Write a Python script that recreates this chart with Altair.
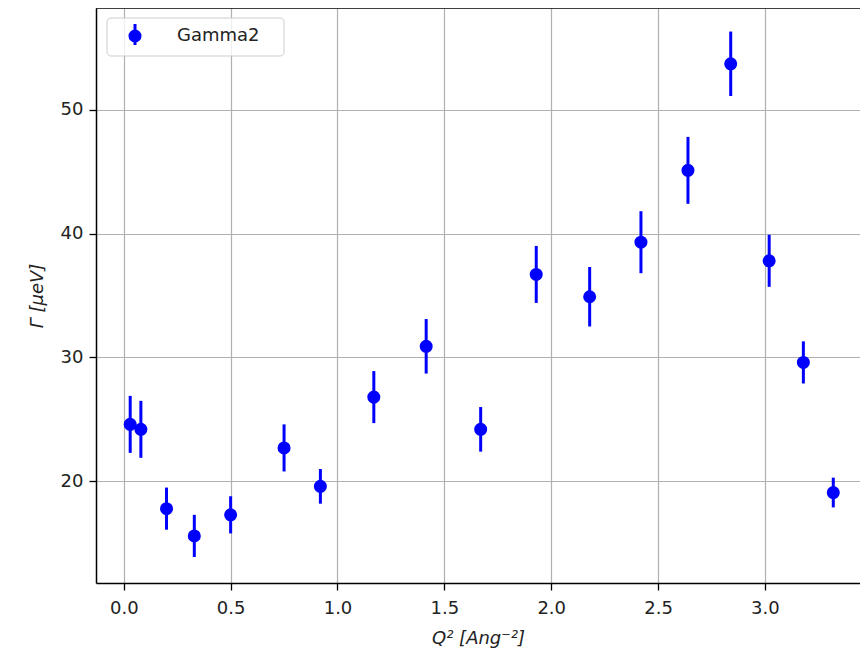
import altair as alt
import pandas as pd

# Data
q2 = [0.03, 0.08, 0.20, 0.33, 0.50, 0.75, 0.92, 1.17, 1.415, 1.67,
      1.93, 2.18, 2.42, 2.64, 2.84, 3.02, 3.18, 3.32]
gamma = [24.6, 24.2, 17.8, 15.6, 17.3, 22.7, 19.6, 26.8, 30.9, 24.2,
         36.7, 34.9, 39.3, 45.1, 53.7, 37.8, 29.6, 19.1]
err = [2.3, 2.3, 1.7, 1.7, 1.5, 1.9, 1.4, 2.1, 2.2, 1.8,
       2.3, 2.4, 2.5, 2.7, 2.6, 2.1, 1.7, 1.2]

x_ticks = [0.0, 0.5, 1.0, 1.5, 2.0, 2.5, 3.0]
y_ticks = [20, 30, 40, 50]

df = pd.DataFrame({"q2": q2, "g": gamma, "err": err})
df["lo"] = df["g"] - df["err"]
df["hi"] = df["g"] + df["err"]

W, H = 764, 575
FONT = "DejaVu Sans"
BLUE = "#0000ff"

xs = alt.Scale(domain=[-0.13, 3.445], nice=False, zero=False)
ys = alt.Scale(domain=[11.8, 58.2], nice=False, zero=False)

xax = alt.Axis(values=x_ticks, format=".1f", title="Q² [Ang⁻²]",
               titleFontStyle="italic", labelPadding=9, titlePadding=12)
yax = alt.Axis(values=y_ticks, format="d", title="Γ [μeV]",
               titleFontStyle="italic", labelPadding=6, titlePadding=14)

bars = alt.Chart(df).mark_rule(color=BLUE, strokeWidth=3).encode(
    x=alt.X("q2:Q", scale=xs, axis=xax),
    y=alt.Y("lo:Q", scale=ys, axis=yax),
    y2="hi:Q",
)
pts = alt.Chart(df).mark_point(filled=True, shape="circle", size=170,
                               color=BLUE, opacity=1).encode(
    x=alt.X("q2:Q", scale=xs),
    y=alt.Y("g:Q", scale=ys),
)

one = pd.DataFrame({"k": [0]})
top_spine = alt.Chart(one).mark_rule(color="black", strokeWidth=1.5).encode(
    x=alt.value(0), x2=alt.value(W), y=alt.value(0))
leg_box = alt.Chart(one).mark_rect(
    fill="white", fillOpacity=0.8, stroke="#cccccc", strokeWidth=1,
    cornerRadius=4).encode(
    x=alt.value(11), x2=alt.value(188), y=alt.value(10), y2=alt.value(48))
leg_bar = alt.Chart(one).mark_rule(color=BLUE, strokeWidth=3).encode(
    x=alt.value(39), y=alt.value(16), y2=alt.value(37))
leg_pt = alt.Chart(one).mark_point(filled=True, shape="circle", size=170,
                                   color=BLUE, opacity=1).encode(
    x=alt.value(39), y=alt.value(28))
leg_txt = alt.Chart(one).mark_text(
    text="Gamma2", align="left", baseline="middle", font=FONT,
    fontSize=18, color="#222222").encode(x=alt.value(81), y=alt.value(28))

chart = alt.layer(bars, pts, top_spine, leg_box, leg_bar, leg_pt, leg_txt).properties(
    width=W, height=H,
    autosize=alt.AutoSizeParams(type="none"),
    padding={"left": 88, "top": 0, "right": 0, "bottom": 66},
).configure_view(stroke=None).configure_axis(
    labelFont=FONT, titleFont=FONT, labelFontSize=18, titleFontSize=18,
    labelColor="#222222", titleColor="#222222", titleFontWeight="normal",
    grid=True, gridColor="#b0b0b0", gridWidth=1.2,
    domainColor="black", domainWidth=1.5,
    tickColor="black", tickSize=7, tickWidth=1.3,
    labelFlush=False, labelOverlap=False,
)

chart.save("out.html", embed_options={"renderer": "svg", "actions": False})
